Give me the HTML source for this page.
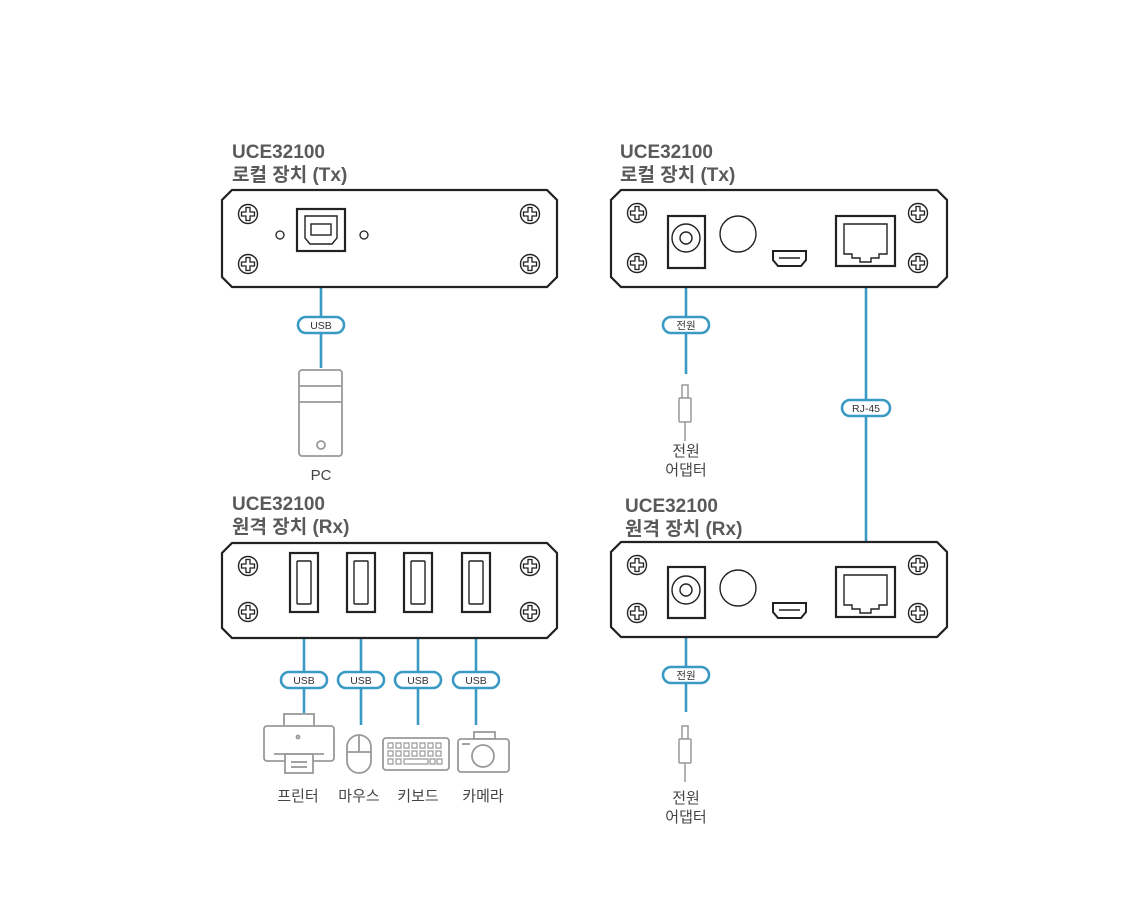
<!DOCTYPE html>
<html><head><meta charset="utf-8"><style>
html,body{margin:0;padding:0;background:#fff}
svg{display:block}
text{font-family:"Liberation Sans","Noto Sans CJK KR",sans-serif}
.t{font-size:19px;fill:#5a5a5a;font-weight:bold}
.lbl{font-size:15px;fill:#444}
.pt{font-size:10.5px;fill:#333;text-anchor:middle}
</style></head><body>
<svg width="1140" height="913" viewBox="0 0 1140 913" xmlns="http://www.w3.org/2000/svg">
<defs>
<g id="sc"><circle r="9.5" fill="#fff" stroke="#222" stroke-width="1.4"/><path d="M-2,-6.5 h4 v4.5 h4.5 v4 h-4.5 v4.5 h-4 v-4.5 h-4.5 v-4 h4.5z" fill="#fff" stroke="#222" stroke-width="1.3"/></g>
<g id="plug" fill="#fff" stroke="#999" stroke-width="1.5"><rect x="-3" y="0" width="6" height="13"/><rect x="-6" y="13" width="12" height="24" rx="1"/><line x1="0" y1="37" x2="0" y2="56"/></g>
<g id="usbA"><rect x="-14" y="0" width="28" height="59" fill="#fff" stroke="#222" stroke-width="2.2"/><rect x="-7" y="8" width="14" height="43" fill="#fff" stroke="#222" stroke-width="1.4" rx="1"/></g>
<g id="rj"><rect x="0" y="0" width="59" height="50" fill="#fff" stroke="#222" stroke-width="2.2"/><path d="M8,8 h43 v30 h-8 v4 h-8 v4 h-11 v-4 h-8 v-4 h-8z" fill="#fff" stroke="#222" stroke-width="1.4"/></g>
<g id="hdmi"><path d="M0,0 h33 v9 l-5,6 h-23 l-5,-6z" fill="#fff" stroke="#222" stroke-width="2"/><line x1="6" y1="7" x2="27" y2="7" stroke="#222" stroke-width="1.5"/></g>
</defs>
<g fill="none" stroke="#3a9ac4" stroke-width="2.6">
<line x1="321" y1="252" x2="321" y2="368"/>
<line x1="686" y1="270" x2="686" y2="374"/>
<line x1="866" y1="282" x2="866" y2="563"/>
<line x1="686" y1="624" x2="686" y2="712"/>
<line x1="304" y1="613" x2="304" y2="713"/>
<line x1="361" y1="613" x2="361" y2="725"/>
<line x1="418" y1="613" x2="418" y2="725"/>
<line x1="476" y1="613" x2="476" y2="725"/>
</g>
<text class="t" x="232" y="158">UCE32100</text><text class="t" x="232" y="181">로컬 장치 (Tx)</text>
<text class="t" x="620" y="158">UCE32100</text><text class="t" x="620" y="181">로컬 장치 (Tx)</text>
<text class="t" x="232" y="510">UCE32100</text><text class="t" x="232" y="533">원격 장치 (Rx)</text>
<text class="t" x="625" y="512">UCE32100</text><text class="t" x="625" y="535">원격 장치 (Rx)</text>
<g fill="#fff" stroke="#222" stroke-width="2.2">
<path d="M232,190 H547 L557,200 V277 L547,287 H232 L222,277 V200Z"/>
<path d="M621,190 H937 L947,200 V277 L937,287 H621 L611,277 V200Z"/>
<path d="M232,543 H547 L557,553 V628 L547,638 H232 L222,628 V553Z"/>
<path d="M621,542 H937 L947,552 V627 L937,637 H621 L611,627 V552Z"/>
</g>
<use href="#sc" x="248" y="214"/><use href="#sc" x="248" y="264"/><use href="#sc" x="530" y="214"/><use href="#sc" x="530" y="264"/>
<use href="#sc" x="637" y="213"/><use href="#sc" x="637" y="263"/><use href="#sc" x="918" y="213"/><use href="#sc" x="918" y="263"/>
<use href="#sc" x="248" y="566"/><use href="#sc" x="248" y="612"/><use href="#sc" x="530" y="566"/><use href="#sc" x="530" y="612"/>
<use href="#sc" x="637" y="565"/><use href="#sc" x="637" y="613"/><use href="#sc" x="918" y="565"/><use href="#sc" x="918" y="613"/>
<circle cx="280" cy="235" r="4" fill="#fff" stroke="#222" stroke-width="1.3"/>
<circle cx="364" cy="235" r="4" fill="#fff" stroke="#222" stroke-width="1.3"/>
<rect x="297" y="209" width="48" height="42" fill="#fff" stroke="#222" stroke-width="2.2"/>
<path d="M305,216 h32 v22 l-5,6 h-22 l-5,-6z" fill="#fff" stroke="#222" stroke-width="1.4"/>
<rect x="311" y="224" width="20" height="11" fill="#fff" stroke="#222" stroke-width="1.4"/>
<rect x="668" y="216" width="37" height="52" fill="#fff" stroke="#222" stroke-width="2.2"/>
<circle cx="686" cy="238" r="14" fill="#fff" stroke="#222" stroke-width="1.4"/><circle cx="686" cy="238" r="6" fill="#fff" stroke="#222" stroke-width="1.4"/>
<circle cx="738" cy="234" r="18" fill="#fff" stroke="#222" stroke-width="1.4"/>
<use href="#hdmi" x="773" y="251"/>
<use href="#rj" x="836" y="216"/>
<rect x="668" y="567" width="37" height="51" fill="#fff" stroke="#222" stroke-width="2.2"/>
<circle cx="686" cy="590" r="14" fill="#fff" stroke="#222" stroke-width="1.4"/><circle cx="686" cy="590" r="6" fill="#fff" stroke="#222" stroke-width="1.4"/>
<circle cx="738" cy="588" r="18" fill="#fff" stroke="#222" stroke-width="1.4"/>
<use href="#hdmi" x="773" y="603"/>
<use href="#rj" x="836" y="567"/>
<use href="#usbA" x="304" y="553"/><use href="#usbA" x="361" y="553"/><use href="#usbA" x="418" y="553"/><use href="#usbA" x="476" y="553"/>
<g fill="#fff" stroke="#3a9ac4" stroke-width="2.6">
<rect x="298" y="317" width="46" height="16" rx="8"/>
<rect x="663" y="317" width="46" height="16" rx="8"/>
<rect x="842" y="400" width="48" height="16" rx="8"/>
<rect x="663" y="667" width="46" height="16" rx="8"/>
<rect x="281" y="672" width="46" height="16" rx="8"/>
<rect x="338" y="672" width="46" height="16" rx="8"/>
<rect x="395" y="672" width="46" height="16" rx="8"/>
<rect x="453" y="672" width="46" height="16" rx="8"/>
</g>
<text class="pt" x="321" y="329">USB</text>
<text class="pt" x="686" y="329">전원</text>
<text class="pt" x="866" y="412">RJ-45</text>
<text class="pt" x="686" y="679">전원</text>
<text class="pt" x="304" y="684">USB</text><text class="pt" x="361" y="684">USB</text><text class="pt" x="418" y="684">USB</text><text class="pt" x="476" y="684">USB</text>
<g fill="#fff" stroke="#999" stroke-width="1.8">
<rect x="299" y="370" width="43" height="86" rx="3"/>
<line x1="299" y1="386" x2="342" y2="386"/><line x1="299" y1="402" x2="342" y2="402"/>
<circle cx="321" cy="445" r="4"/>
</g>
<text class="lbl" x="321" y="480" text-anchor="middle">PC</text>
<use href="#plug" x="685" y="385"/>
<use href="#plug" x="685" y="726"/>
<text class="lbl" x="686" y="456" text-anchor="middle">전원</text>
<text class="lbl" x="686" y="475" text-anchor="middle">어댑터</text>
<text class="lbl" x="686" y="803" text-anchor="middle">전원</text>
<text class="lbl" x="686" y="822" text-anchor="middle">어댑터</text>
<g fill="#fff" stroke="#999" stroke-width="1.8">
<rect x="284" y="714" width="30" height="14"/>
<rect x="264" y="726" width="70" height="35" rx="3"/>
<line x1="274" y1="754" x2="324" y2="754"/>
<rect x="285" y="754" width="28" height="19"/>
<line x1="291" y1="762" x2="307" y2="762"/><line x1="291" y1="767" x2="307" y2="767"/>
<circle cx="298" cy="737" r="1.5"/>
<rect x="347" y="735" width="24" height="38" rx="12"/>
<line x1="347" y1="752" x2="371" y2="752"/><line x1="359" y1="735" x2="359" y2="752"/>
<rect x="383" y="738" width="66" height="32" rx="3"/>
<rect x="474" y="732" width="21" height="7"/>
<rect x="458" y="739" width="51" height="33" rx="3"/>
<circle cx="483" cy="756" r="11"/>
<line x1="462" y1="744" x2="470" y2="744"/>
</g>
<g fill="none" stroke="#999" stroke-width="1.2">
<path d="M388,743h5v5h-5zM396,743h5v5h-5zM404,743h5v5h-5zM412,743h5v5h-5zM420,743h5v5h-5zM428,743h5v5h-5zM436,743h5v5h-5zM388,751h5v5h-5zM396,751h5v5h-5zM404,751h5v5h-5zM412,751h5v5h-5zM420,751h5v5h-5zM428,751h5v5h-5zM436,751h5v5h-5zM388,759h5v5h-5zM396,759h5v5h-5zM404,759h24v5h-24zM430,759h5v5h-5zM437,759h5v5h-5z"/>
</g>
<text class="lbl" x="298" y="801" text-anchor="middle">프린터</text>
<text class="lbl" x="359" y="801" text-anchor="middle">마우스</text>
<text class="lbl" x="418" y="801" text-anchor="middle">키보드</text>
<text class="lbl" x="483" y="801" text-anchor="middle">카메라</text>
</svg>
</body></html>
